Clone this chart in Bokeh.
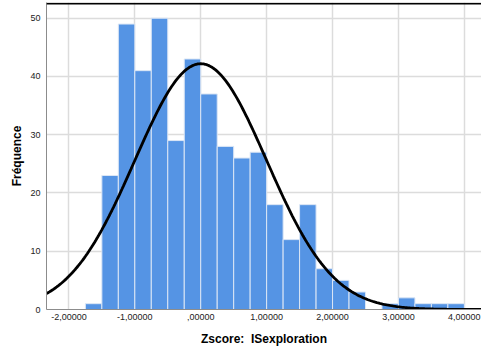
import numpy as np
from bokeh.plotting import figure
from bokeh.models import FixedTicker, Span, ColumnDataSource
from bokeh.embed import file_html
from bokeh.resources import INLINE

# histogram bins (lower edges) and counts
bin_lower = [-1.75, -1.5, -1.25, -1.0, -0.75, -0.5, -0.25, 0.0, 0.25, 0.5, 0.75,
             1.0, 1.25, 1.5, 1.75, 2.0, 2.25, 2.5, 2.75, 3.0, 3.25, 3.5, 3.75]
counts = [1, 23, 49, 41, 50, 29, 43, 37, 28, 26, 27,
          18, 12, 18, 7, 5, 3, 0, 1, 2, 1, 1, 1]
bin_width = 0.25
mean = 0.0
sd = 1.0

x_ticks = [-2, -1, 0, 1, 2, 3, 4]
x_tick_labels = ["-2,00000", "-1,00000", ",00000", "1,00000", "2,00000", "3,00000", "4,00000"]
y_ticks = [0, 10, 20, 30, 40, 50]

N = sum(counts)
left = np.array(bin_lower)
src = ColumnDataSource(dict(left=left, right=left + bin_width, top=counts))

Y_END = 52.7
p = figure(width=481, height=348, output_backend="svg", toolbar_location=None,
           x_range=(-2.34, 4.26), y_range=(0, Y_END),
           min_border_left=46, min_border_right=0, min_border_top=2, min_border_bottom=36)

p.quad(left="left", right="right", bottom=0, top="top", source=src,
       fill_color="#5594E4", line_color="#dbe6f5", line_width=1)

xs = np.linspace(-2.34, 4.26, 300)
ys = N * bin_width * np.exp(-0.5 * ((xs - mean) / sd) ** 2) / (sd * np.sqrt(2 * np.pi))
p.line(xs, ys, line_color="black", line_width=2.8)

p.add_layout(Span(location=Y_END - 0.2, dimension="width", line_color="black",
                  line_width=1.8, level="overlay"))

p.outline_line_color = None
p.background_fill_color = "white"
p.border_fill_color = "white"

for g in (p.xgrid, p.ygrid):
    g.grid_line_color = "#dcdcdc"
    g.grid_line_width = 1.5
p.xgrid.ticker = FixedTicker(ticks=x_ticks)
p.ygrid.ticker = FixedTicker(ticks=y_ticks)

p.xaxis.ticker = FixedTicker(ticks=x_ticks)
p.xaxis.major_label_overrides = {t: l for t, l in zip(x_ticks, x_tick_labels)}
p.yaxis.ticker = FixedTicker(ticks=y_ticks)

for ax in (p.xaxis, p.yaxis):
    ax.axis_line_color = "#8c8c8c"
    ax.axis_line_width = 1
    ax.major_tick_line_color = None
    ax.minor_tick_line_color = None
    ax.major_tick_out = 0
    ax.major_tick_in = 0
    ax.major_label_text_font = "Liberation Sans"
    ax.major_label_text_font_size = "9px"
    ax.major_label_text_color = "#222222"
    ax.axis_label_text_font = "Liberation Sans"
    ax.axis_label_text_font_style = "bold"
    ax.axis_label_text_font_size = "12px"
    ax.axis_label_text_color = "black"

p.xaxis.axis_label = "Zscore:\u00a0 ISexploration"
p.xaxis.major_label_standoff = 4
p.xaxis.axis_label_standoff = 9
p.yaxis.axis_label = "Fréquence"
p.yaxis.major_label_standoff = 6
p.yaxis.axis_label_standoff = 3

open("out.html", "w").write(file_html(p, INLINE))
